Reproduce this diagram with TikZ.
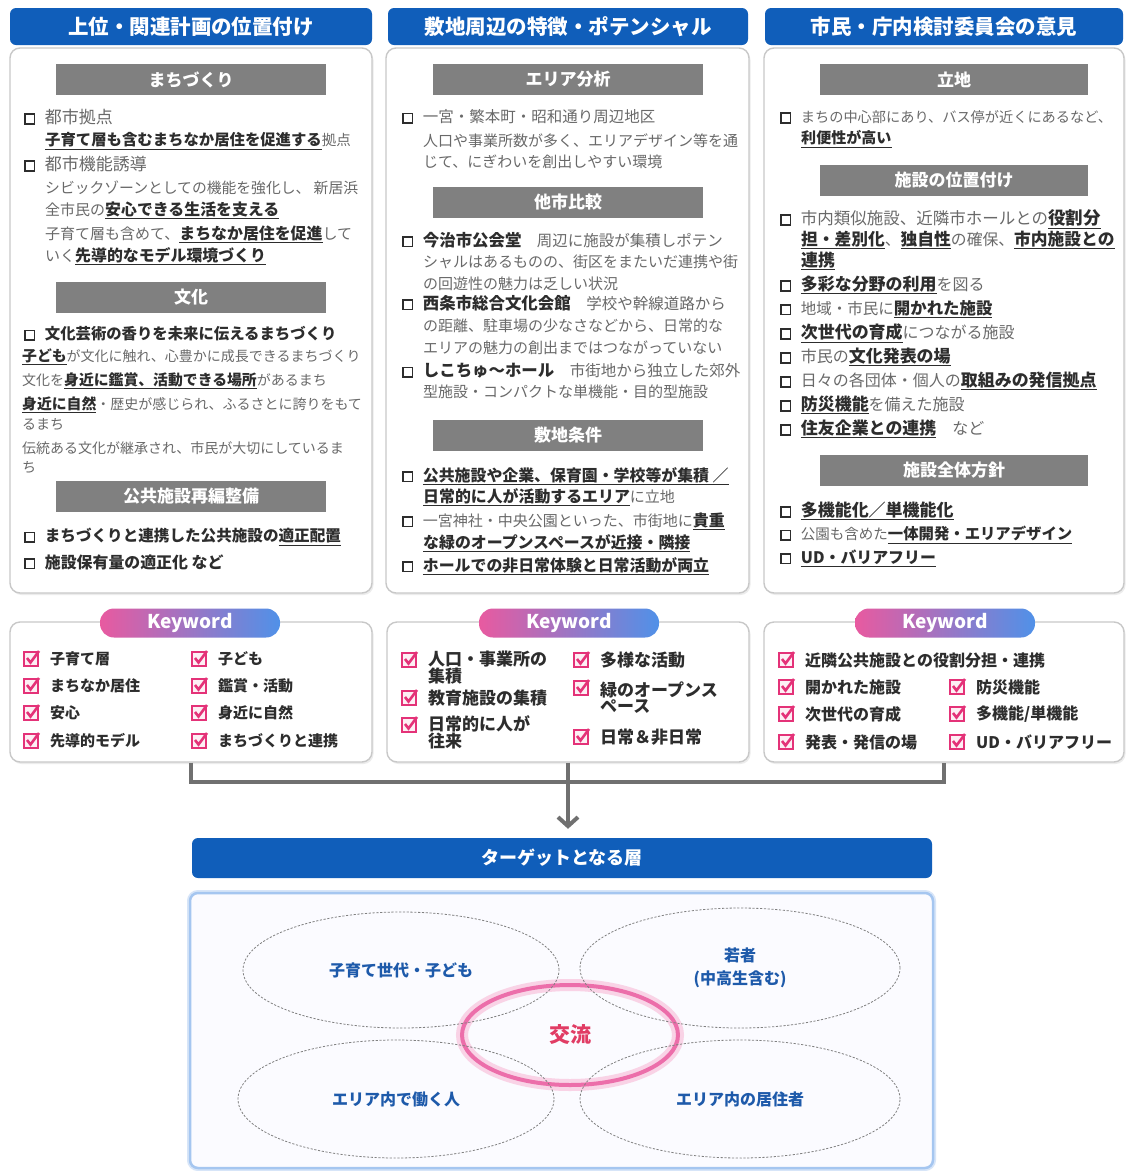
\documentclass[tikz,border=0pt]{standalone}
\usepackage{fontspec}
\setmainfont{Noto Sans CJK JP}
\usetikzlibrary{shapes.geometric,shadows,arrows.meta}

\definecolor{hdblue}{RGB}{16,94,186}
\definecolor{bargray}{RGB}{128,128,128}
\definecolor{txtgray}{RGB}{105,105,105}
\definecolor{txtdark}{RGB}{45,45,45}
\definecolor{rimgray}{RGB}{200,200,200}
\definecolor{conngray}{RGB}{112,112,112}
\definecolor{pillpink}{RGB}{232,90,160}
\definecolor{pillblue}{RGB}{80,145,232}
\definecolor{kwcheck}{RGB}{228,50,120}
\definecolor{tgblue}{RGB}{30,90,170}
\definecolor{ringpink}{RGB}{236,110,170}
\definecolor{mixred}{RGB}{225,60,100}
\definecolor{glowblue}{RGB}{165,198,240}

\makeatletter
\newcommand{\fs}[1]{\fontsize{#1}{#1}\selectfont}
\newcommand{\wider}{\fontsize{\strip@pt\dimexpr1.06\dimexpr\f@size pt\relax\relax}{\f@baselineskip}\selectfont}
\makeatother
\newcommand{\bo}[1]{{\wider\bfseries\color{txtdark}#1}}
\newcommand{\bu}[1]{{\wider\bfseries\color{txtdark}\underline{#1}}}
\newcommand{\sq}{\raisebox{0.5pt}{\setlength{\fboxsep}{0pt}\setlength{\fboxrule}{1.6pt}\fcolorbox{txtdark}{white}{\rule{0pt}{8pt}\hspace{8pt}}}\hspace{9.5pt}}

\tikzset{
  headbar/.style={fill=hdblue, rounded corners=6pt, text=white, font=\fs{20.5}\bfseries, minimum height=37pt, inner sep=0pt},
  panel/.style={draw=rimgray, line width=1.4pt, rounded corners=10pt, fill=white, drop shadow={opacity=0.15, shadow xshift=1.5pt, shadow yshift=-2pt}, inner sep=0pt},
  subbar/.style={fill=bargray, text=white, font=\fs{17}\bfseries, minimum width=270pt, minimum height=31pt, inner sep=0pt},
  txt/.style={anchor=west, text=txtgray, inner sep=0pt},
  pill/.style={left color=pillpink, right color=pillblue, rounded corners=14pt, minimum width=180pt, minimum height=29pt, text=white, font=\fs{19}\bfseries, inner sep=0pt},
  kw/.style={anchor=west, text=txtdark, inner sep=0pt, align=left},
  conn/.style={draw=conngray, line width=4pt},
  grp/.style={ellipse, draw=black!50, dash pattern=on 2.2pt off 1.6pt, line width=0.8pt, text=tgblue, font=\fontsize{16}{23}\selectfont\bfseries, align=center, inner sep=0pt},
  glowring/.style={ellipse, draw=ringpink, line width=4pt, preaction={draw=ringpink!30, line width=12pt}, text=mixred, font=\fs{21}\bfseries, minimum width=216pt, minimum height=100pt},
  chkbox/.pic={
    \draw[kwcheck, line width=1.6pt, fill=kwcheck!8] (-7,-7) rectangle (7,7);
    \draw[kwcheck, line width=2.6pt] (-4,-1) -- (-0.5,3.5) -- (8,-8);
  }
}

\begin{document}
\begin{tikzpicture}[x=1pt,y=-1pt]
\useasboundingbox (0,0) rectangle (1126,1171);
\fill[white] (0,0) rectangle (1126,1171);

% three source columns
\node[headbar, minimum width=362pt] (h1) at (191,26.5) {上位・関連計画の位置付け};
\node[headbar, minimum width=360pt] (h2) at (568,26.5) {敷地周辺の特徴・ポテンシャル};
\node[headbar, minimum width=358pt] (h3) at (944,26.5) {市民・庁内検討委員会の意見};

\node[panel, minimum width=362pt, minimum height=545pt] (p1) at (191,320.5) {};
\node[panel, minimum width=363pt, minimum height=545pt] (p2) at (567.5,320.5) {};
\node[panel, minimum width=360pt, minimum height=545pt] (p3) at (944,320.5) {};

\node[subbar] (m1) at (191,79.5) {まちづくり};
\node[subbar] (m2) at (191,297) {文化};
\node[subbar] (m3) at (191,496) {公共施設再編整備};
\node[subbar] (m4) at (568,79.5) {エリア分析};
\node[subbar] (m5) at (568,202) {他市比較};
\node[subbar] (m6) at (568,435) {敷地条件};
\node[subbar, minimum width=268pt] (m7) at (954,79.5) {立地};
\node[subbar, minimum width=268pt] (m8) at (954,180.5) {施設の位置付け};
\node[subbar, minimum width=268pt] (m9) at (954,470.5) {施設全体方針};

\foreach \x/\y/\sz/\lbl [count=\i] in {
  24/117/17/{\sq 都市拠点},
  45/141/14.5/{\bu{子育て層も含むまちなか居住を促進する}拠点},
  24/164/17/{\sq 都市機能誘導},
  45/188/14.8/{シビックゾーンとしての機能を強化し、 新居浜},
  45/210/15/{全市民の\bu{安心できる生活を支える}},
  45/234/15/{子育て層も含めて、\bu{まちなか居住を促進}して},
  45/256/15/{いく\bu{先導的なモデル環境づくり}},
  24/334/14.5/{\sq \bo{文化芸術の香りを未来に伝えるまちづくり}},
  22/357/14/{\bu{子ども}が文化に触れ、心豊かに成長できるまちづくり},
  22/381/14/{文化を\bu{身近に鑑賞、活動できる場所}があるまち},
  22/405/14/{\bu{身近に自然}・歴史が感じられ、ふるさとに誇りをもて},
  22/424/14/{るまち},
  22/448/14/{伝統ある文化が継承され、市民が大切にしているま},
  22/467/14/{ち},
  24/537/14.7/{\sq \bo{まちづくりと連携した公共施設の\underline{適正配置}}},
  24/562/15/{\sq \bo{施設保有量の適正化 など}}}
  \node[txt, font=\fs{\sz}] (l1-\i) at (\x,\y) {\lbl};

\foreach \x/\y/\sz/\lbl [count=\i] in {
  402/117/15.5/{\sq 一宮・繁本町・昭和通り周辺地区},
  423/141/15/{人口や事業所数が多く、エリアデザイン等を通},
  423/162/15/{じて、にぎわいを創出しやすい環境},
  402/240/15.5/{\sq \bo{今治市公会堂}　周辺に施設が集積しポテン},
  423/262/15/{シャルはあるものの、街区をまたいだ連携や街},
  423/284/15/{の回遊性の魅力は乏しい状況},
  402/303/15.5/{\sq \bo{西条市総合文化会館}　学校や幹線道路から},
  423/326/15/{の距離、駐車場の少なさなどから、日常的な},
  423/348/15/{エリアの魅力の創出まではつながっていない},
  402/371/15.5/{\sq \bo{しこちゅ～ホール}　市街地から独立した郊外},
  423/392/15/{型施設・コンパクトな単機能・目的型施設},
  402/476/15/{\sq \bu{公共施設や企業、保育園・学校等が集積 ／}},
  423/497/15/{\bu{日常的に人が活動するエリア}に立地},
  402/521/15/{\sq 一宮神社・中央公園といった、市街地に\bu{貴重}},
  423/543/15/{\bu{な緑のオープンスペースが近接・隣接}},
  402/566/15/{\sq \bu{ホールでの非日常体験と日常活動が両立}}}
  \node[txt, font=\fs{\sz}] (l2-\i) at (\x,\y) {\lbl};

\foreach \x/\y/\sz/\lbl [count=\i] in {
  780/117/14.2/{\sq まちの中心部にあり、バス停が近くにあるなど、},
  801/139/14.2/{\bu{利便性が高い}},
  780/219/16.5/{\sq 市内類似施設、近隣市ホールとの\bu{役割分}},
  801/240/15.8/{\bu{担・差別化}、\bu{独自性}の確保、\bu{市内施設との}},
  801/261/16/{\bu{連携}},
  780/285/16/{\sq \bu{多彩な分野の利用}を図る},
  780/309/15.5/{\sq 地域・市民に\bu{開かれた施設}},
  780/333/16/{\sq \bu{次世代の育成}につながる施設},
  780/357/16/{\sq 市民の\bu{文化発表の場}},
  780/381/16/{\sq 日々の各団体・個人の\bu{取組みの発信拠点}},
  780/405/16/{\sq \bu{防災機能}を備えた施設},
  780/429/16/{\sq \bu{住友企業との連携}　など},
  780/511/16/{\sq \bu{多機能化／単機能化}},
  780/535/14.5/{\sq 公園も含めた\bu{一体開発・エリアデザイン}},
  780/558/15/{\sq \bu{UD・バリアフリー}}}
  \node[txt, font=\fs{\sz}] (l3-\i) at (\x,\y) {\lbl};

% keywords
\node[panel, minimum width=362pt, minimum height=140pt] (kb1) at (191,692) {};
\node[panel, minimum width=362pt, minimum height=140pt] (kb2) at (568,692) {};
\node[panel, minimum width=360pt, minimum height=140pt] (kb3) at (944,692) {};
\node[pill] (kp1) at (190,623) {Keyword};
\node[pill] (kp2) at (569,623) {Keyword};
\node[pill] (kp3) at (945,623) {Keyword};

\foreach \x/\y/\c/\lbl [count=\i] in {
  50/659/659/子育て層, 50/686/686/まちなか居住, 50/713/713/安心, 50/741/741/先導的モデル,
  218/659/659/子ども, 218/686/686/鑑賞・活動, 218/713/713/身近に自然, 218/741/741/まちづくりと連携}
{
  \pic at (\x-19,\c) {chkbox};
  \node[kw, font=\fs{15}\bfseries] (k1-\i) at (\x,\y) {\lbl};
}
\foreach \x/\y/\c/\lbl [count=\i] in {
  428/667.5/660/{人口・事業所の\\集積}, 428/698/698/教育施設の集積, 428/732.5/725/{日常的に人が\\往来},
  600/660/660/多様な活動, 600/697.5/688/{緑のオープンス\\ペース}, 600/737/737/日常＆非日常}
{
  \pic at (\x-19,\c) {chkbox};
  \node[kw, font=\fontsize{17}{16}\selectfont\bfseries] (k2-\i) at (\x,\y) {\lbl};
}
\foreach \x/\y/\lbl [count=\i] in {
  805/660/近隣公共施設との役割分担・連携, 805/687/開かれた施設, 805/714/次世代の育成, 805/742/発表・発信の場,
  976/687/防災機能, 976/714/{多機能/単機能}, 976/742/UD・バリアフリー}
{
  \pic at (\x-19,\y) {chkbox};
  \node[kw, font=\fs{16}\bfseries] (k3-\i) at (\x,\y) {\lbl};
}

% target
\node[headbar, minimum width=740pt, minimum height=40pt, font=\fs{18}\bfseries] (tgt) at (562,858) {ターゲットとなる層};
\node[draw=glowblue, line width=2.5pt, rounded corners=8pt, fill=blue!1.5, preaction={draw=glowblue!45, line width=6pt}, minimum width=743pt, minimum height=275pt] (tbox) at (561.5,1030.5) {};

\coordinate (jn) at (568,782);
\draw[conn] (kb1.south) |- (jn) -| (kb3.south);
\draw[conn, -{Straight Barb[length=9pt,width=20pt]}, shorten >=9pt] (kb2.south) -- (kb2.south |- tgt.north);

\node[glowring] (mix) at (570,1035) {交流};
\node[grp, minimum width=316pt, minimum height=116pt] (g1) at (401,970) {子育て世代・子ども};
\node[grp, minimum width=320pt, minimum height=120pt] (g2) at (740,968) {若者\\(中高生含む)};
\node[grp, minimum width=316pt, minimum height=118pt] (g3) at (396,1099) {エリア内で働く人};
\node[grp, minimum width=320pt, minimum height=118pt] (g4) at (740,1099) {エリア内の居住者};

\end{tikzpicture}
\end{document}
